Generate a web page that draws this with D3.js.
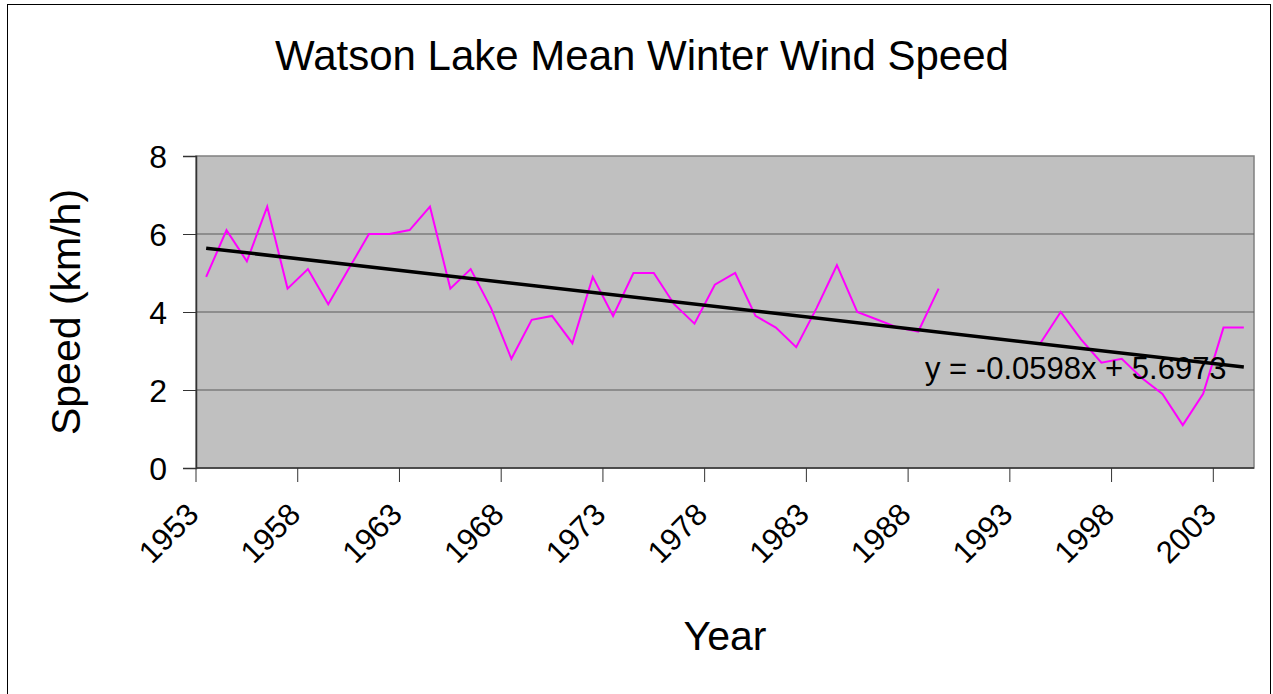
<!DOCTYPE html>
<html>
<head>
<meta charset="utf-8">
<script src="https://cdn.jsdelivr.net/npm/d3@7"></script>
<style>
  body { margin: 0; background: #fff; }
  text { font-family: "Liberation Sans", Arial, sans-serif; fill: #000; }
</style>
</head>
<body>
<div id="chart"></div>
<script>
// yearly categories, 1953 - 2004
var years = d3.range(1953, 2005);

// mean winter wind speed (km/h); null = no data (1990-1993)
var speed = [
  4.9, 6.1, 5.3, 6.7, 4.6, 5.1, 4.2, 5.1, 6.0, 6.0,
  6.1, 6.7, 4.6, 5.1, 4.1, 2.8, 3.8, 3.9, 3.2, 4.9,
  3.9, 5.0, 5.0, 4.2, 3.7, 4.7, 5.0, 3.9, 3.6, 3.1,
  4.1, 5.2, 4.0, 3.8, 3.6, 3.5, 4.6, null, null, null,
  null, 3.2, 4.0, 3.3, 2.7, 2.8, 2.3, 1.9, 1.1, 1.9,
  3.6, 3.6
];

var yTicks = [0, 2, 4, 6, 8];
var xLabelYears = [1953, 1958, 1963, 1968, 1973, 1978, 1983, 1988, 1993, 1998, 2003];

// linear trendline as printed on the chart (x = 1 .. n)
var trendSlope = -0.0598, trendIntercept = 5.6973;
var trendLabel = "y = -0.0598x + 5.6973";

var width = 1273, height = 694;
var plot = {left: 196, right: 1254, top: 156, bottom: 468};

var svg = d3.select("#chart").append("svg")
  .attr("width", width)
  .attr("height", height);

// outer chart border
svg.append("rect")
  .attr("x", 7.5).attr("y", 4.5)
  .attr("width", 1263).attr("height", 700)
  .style("fill", "#fff")
  .style("stroke", "#000")
  .style("stroke-width", 1);

var x = d3.scaleBand()
  .domain(years)
  .range([plot.left, plot.right]);

var y = d3.scaleLinear()
  .domain([0, 8])
  .range([plot.bottom, plot.top]);

// plot area
svg.append("rect")
  .attr("x", plot.left).attr("y", plot.top)
  .attr("width", plot.right - plot.left)
  .attr("height", plot.bottom - plot.top)
  .style("fill", "#c0c0c0")
  .style("stroke", "#808080")
  .style("stroke-width", 1.5);

// gridlines
svg.append("g")
  .selectAll("line")
  .data(yTicks.filter(function(d) { return d > 0 && d < 8; }))
  .enter().append("line")
  .attr("x1", plot.left).attr("x2", plot.right)
  .attr("y1", function(d) { return y(d); })
  .attr("y2", function(d) { return y(d); })
  .style("stroke", "#5a5a5a")
  .style("stroke-width", 1);

// y axis
var yAxis = svg.append("g")
  .attr("transform", "translate(" + plot.left + ",0)")
  .call(d3.axisLeft(y).tickValues(yTicks).tickSize(13).tickPadding(16));
yAxis.select(".domain").style("stroke", "#333").style("stroke-width", 1.5);
yAxis.selectAll(".tick line").style("stroke", "#333");
yAxis.selectAll("text")
  .style("font-size", "32px")
  .attr("dy", "0.36em");

// x axis: ticks at category boundaries every 5 years
var xAxisG = svg.append("g");
xAxisG.append("line")
  .attr("x1", plot.left).attr("x2", plot.right)
  .attr("y1", plot.bottom).attr("y2", plot.bottom)
  .style("stroke", "#333").style("stroke-width", 1.5);
xAxisG.selectAll(".tick")
  .data(xLabelYears)
  .enter().append("line")
  .attr("x1", function(d) { return x(d); })
  .attr("x2", function(d) { return x(d); })
  .attr("y1", plot.bottom).attr("y2", plot.bottom + 14)
  .style("stroke", "#333");
xAxisG.selectAll("text")
  .data(xLabelYears)
  .enter().append("text")
  .attr("transform", function(d) {
    return "translate(" + (x(d) + x.bandwidth() / 2 - 21) + "," + (plot.bottom + 33) + ") rotate(-45)";
  })
  .style("text-anchor", "end")
  .attr("dy", "0.7em")
  .style("font-size", "31px")
  .text(function(d) { return d; });

// data line (breaks where values are missing)
var line = d3.line()
  .defined(function(d) { return d.v !== null; })
  .x(function(d) { return x(d.year) + x.bandwidth() / 2; })
  .y(function(d) { return y(d.v); });

var rows = years.map(function(yr, i) { return {year: yr, v: speed[i]}; });

svg.append("path")
  .datum(rows)
  .attr("d", line)
  .style("fill", "none")
  .style("stroke", "#ff00ff")
  .style("stroke-width", 2);

// trendline
var first = years[0], last = years[years.length - 1];
svg.append("line")
  .attr("x1", x(first) + x.bandwidth() / 2)
  .attr("y1", y(trendSlope * 1 + trendIntercept))
  .attr("x2", x(last) + x.bandwidth() / 2)
  .attr("y2", y(trendSlope * years.length + trendIntercept))
  .style("stroke", "#000")
  .style("stroke-width", 3.5);

svg.append("text")
  .attr("x", 925).attr("y", 379)
  .style("font-size", "31px")
  .text(trendLabel);

// titles
svg.append("text")
  .attr("x", (plot.left + plot.right) / 2 - 83).attr("y", 70)
  .style("text-anchor", "middle")
  .style("font-size", "42px")
  .text("Watson Lake Mean Winter Wind Speed");

svg.append("text")
  .attr("x", (plot.left + plot.right) / 2).attr("y", 650)
  .style("text-anchor", "middle")
  .style("font-size", "41px")
  .text("Year");

svg.append("text")
  .attr("transform", "translate(80," + (plot.top + plot.bottom) / 2 + ") rotate(-90)")
  .style("text-anchor", "middle")
  .style("font-size", "41px")
  .text("Speed (km/h)");
</script>
</body>
</html>
